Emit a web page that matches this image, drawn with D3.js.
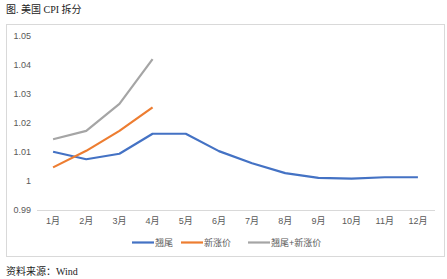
<!DOCTYPE html>
<html>
<head>
<meta charset="utf-8">
<script src="https://cdn.jsdelivr.net/npm/d3@7"></script>
<style>
  body { margin: 0; background: #fff; }
  .tick text, .legend text { fill: #595959; font-family: "Liberation Sans", "Noto Sans CJK SC", sans-serif; font-size: 9px; }
  .caption { font-family: "Liberation Serif", "Noto Sans CJK SC", serif; font-size: 10px; fill: #222; }
  .line { fill: none; stroke-width: 2.2px; stroke-linejoin: round; }
</style>
</head>
<body>
<div id="chart"></div>
<script>
// months on the x axis
var months = ["1月","2月","3月","4月","5月","6月","7月","8月","9月","10月","11月","12月"];
// y tick values
var yTicks = [0.99, 1, 1.01, 1.02, 1.03, 1.04, 1.05];

// series
var qiaowei = [1.0101, 1.0075, 1.0094, 1.0163, 1.0163, 1.0103, 1.0061, 1.0027, 1.0011, 1.0008, 1.0013, 1.0013];
var xinzhang = [1.0047, 1.0104, 1.0173, 1.0254];
var total = [1.0144, 1.0173, 1.0266, 1.0420];

var seriesNames = ["翘尾", "新涨价", "翘尾+新涨价"];
var seriesColors = ["#4472C4", "#ED7D31", "#A5A5A5"];

var W = 447, H = 279;
var svg = d3.select("#chart").append("svg").attr("width", W).attr("height", H);

// title and source
svg.append("text").attr("class", "caption").attr("x", 6).attr("y", 13).text("图. 美国 CPI 拆分");
svg.append("text").attr("class", "caption").attr("x", 6).attr("y", 275).text("资料来源：Wind");

// chart frame
svg.append("rect")
    .attr("x", 6.5).attr("y", 24.5)
    .attr("width", 438).attr("height", 232)
    .attr("fill", "#fff").attr("stroke", "#d9d9d9");

var x = d3.scaleBand().domain(months).range([36.5, 434.5]);
var y = d3.scaleLinear().domain([0.99, 1.05]).range([210, 36]);

// x axis
var xAxis = svg.append("g").attr("transform", "translate(0,210)")
    .call(d3.axisBottom(x).tickSize(0).tickPadding(8));
xAxis.select(".domain").attr("stroke", "#d9d9d9");

// y axis (labels only)
var yAxis = svg.append("g").attr("transform", "translate(31,0)")
    .call(d3.axisLeft(y).tickValues(yTicks).tickSize(0).tickPadding(0)
        .tickFormat(function(d) { return d3.format("")(+d.toFixed(2)); }));
yAxis.select(".domain").remove();

var line = d3.line()
    .x(function(d, i) { return x(months[i]) + x.bandwidth() / 2; })
    .y(function(d) { return y(d); });

[qiaowei, xinzhang, total].forEach(function(s, i) {
    svg.append("path").datum(s)
        .attr("class", "line")
        .attr("stroke", seriesColors[i])
        .attr("d", line);
});

// legend
var legendX = [132, 181, 248];
var legend = svg.append("g").attr("class", "legend");
seriesNames.forEach(function(name, i) {
    legend.append("line")
        .attr("x1", legendX[i]).attr("x2", legendX[i] + 22)
        .attr("y1", 242.5).attr("y2", 242.5)
        .attr("stroke", seriesColors[i]).attr("stroke-width", 2.2);
    legend.append("text")
        .attr("x", legendX[i] + 23).attr("y", 245.5)
        .text(name);
});
</script>
</body>
</html>
